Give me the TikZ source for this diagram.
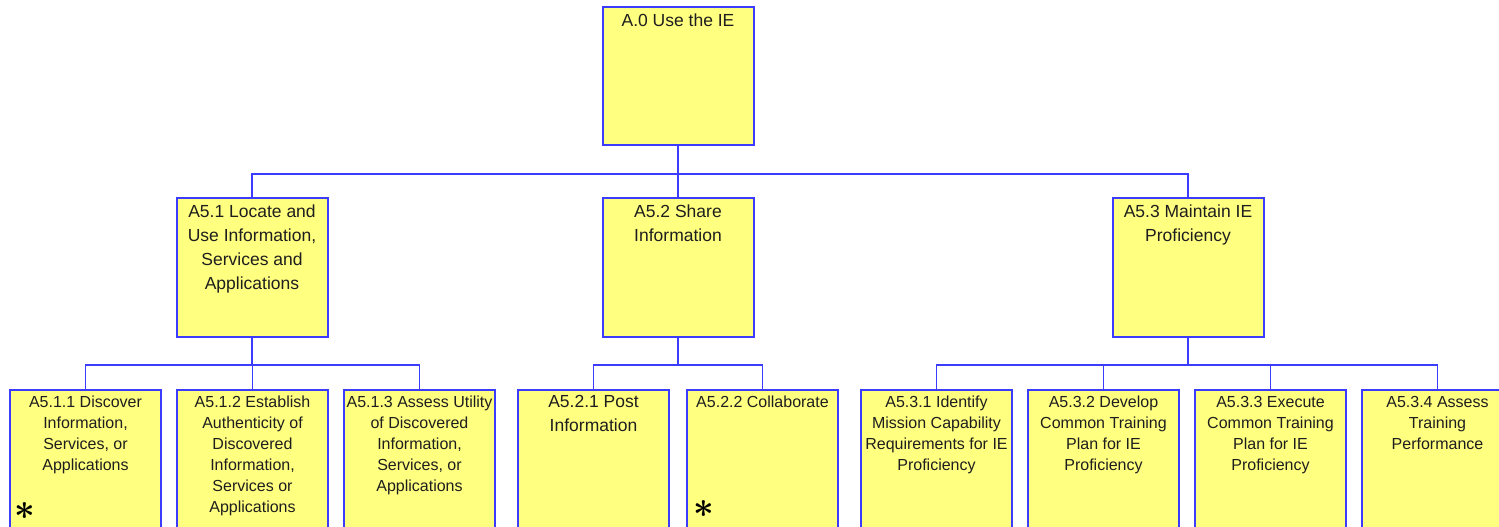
\documentclass[tikz,border=0pt]{standalone}
\usepackage{fontspec}
\setmainfont{Liberation Sans}
\definecolor{edgeblue}{RGB}{60,60,255}
\definecolor{boxfill}{RGB}{255,255,128}
\definecolor{txtcol}{RGB}{30,30,30}
\tikzset{
  box/.style={rectangle, draw=edgeblue, fill=boxfill, line width=2pt, inner sep=0pt, minimum width=151pt},
  topbox/.style={box, minimum height=138pt},
  midbox/.style={box, minimum height=139pt},
  leafbox/.style={box, minimum height=170pt},
  conn/.style={draw=edgeblue, line width=1.8pt},
  bigtxt/.style={anchor=north, align=center, inner sep=0pt, text=txtcol, font=\fontsize{17.5}{24}\selectfont},
  smalltxt/.style={anchor=north, align=center, inner sep=0pt, text=txtcol, font=\fontsize{16}{21}\selectfont},
  starmark/.style={inner sep=0pt, scale=3.6, text=black, font=\boldmath}
}
\begin{document}
\begin{tikzpicture}[x=1pt,y=-1pt]
\useasboundingbox (0,0) rectangle (1499,527);
\clip (0,0) rectangle (1499,527);
% boxes
\node[topbox] (a0) at (678,76) {};
\node[midbox] (a51) at (252,267.5) {};
\node[midbox] (a52) at (678,267.5) {};
\node[midbox] (a53) at (1188,267.5) {};
\node[leafbox] (a511) at (85.5,475) {};
\node[leafbox] (a512) at (252.5,475) {};
\node[leafbox] (a513) at (419.5,475) {};
\node[leafbox] (a521) at (593.5,475) {};
\node[leafbox] (a522) at (762.5,475) {};
\node[leafbox] (a531) at (936.5,475) {};
\node[leafbox] (a532) at (1103.5,475) {};
\node[leafbox] (a533) at (1270.5,475) {};
\node[leafbox] (a534) at (1437.5,475) {};
% connectors
\draw[conn] (a0.south) -- ++(0,28) -| (a51.north);
\draw[conn] (a0.south) -- ++(0,28) -| (a52.north);
\draw[conn] (a0.south) -- ++(0,28) -| (a53.north);
\foreach \c in {a511,a512,a513} \draw[conn] (a51.south) -- ++(0,27) -| (\c.north);
\foreach \c in {a521,a522} \draw[conn] (a52.south) -- ++(0,27) -| (\c.north);
\foreach \c in {a531,a532,a533,a534} \draw[conn] (a53.south) -- ++(0,27) -| (\c.north);
% texts
\node[bigtxt] (t0) at ([yshift=-8pt]a0.north) {A.0 Use the IE};
\node[bigtxt] (t51) at ([yshift=-8pt]a51.north) {A5.1 Locate and\\Use Information,\\Services and\\Applications};
\node[bigtxt] (t52) at ([yshift=-8pt]a52.north) {A5.2 Share\\Information};
\node[bigtxt] (t53) at ([yshift=-8pt]a53.north) {A5.3 Maintain IE\\Proficiency};
\node[smalltxt] (t511) at ([yshift=-7pt]a511.north) {A5.1.1 Discover\\Information,\\Services, or\\Applications};
\node[smalltxt] (t512) at ([yshift=-7pt]a512.north) {A5.1.2 Establish\\Authenticity of\\Discovered\\Information,\\Services or\\Applications};
\node[smalltxt] (t513) at ([yshift=-7pt]a513.north) {A5.1.3 Assess Utility\\of Discovered\\Information,\\Services, or\\Applications};
\node[bigtxt] (t521) at ([yshift=-6pt]a521.north) {A5.2.1 Post\\Information};
\node[smalltxt] (t522) at ([yshift=-7pt]a522.north) {A5.2.2 Collaborate};
\node[smalltxt] (t531) at ([yshift=-7pt]a531.north) {A5.3.1 Identify\\Mission Capability\\Requirements for IE\\Proficiency};
\node[smalltxt] (t532) at ([yshift=-7pt]a532.north) {A5.3.2 Develop\\Common Training\\Plan for IE\\Proficiency};
\node[smalltxt] (t533) at ([yshift=-7pt]a533.north) {A5.3.3 Execute\\Common Training\\Plan for IE\\Proficiency};
\node[smalltxt] (t534) at ([yshift=-7pt]a534.north) {A5.3.4 Assess\\Training\\Performance};
% asterisks
\node[starmark] (s1) at ([xshift=15.5pt,yshift=-122pt]a511.north west) {$\ast$};
\node[starmark] (s2) at ([xshift=18pt,yshift=-120pt]a522.north west) {$\ast$};
\end{tikzpicture}
\end{document}
